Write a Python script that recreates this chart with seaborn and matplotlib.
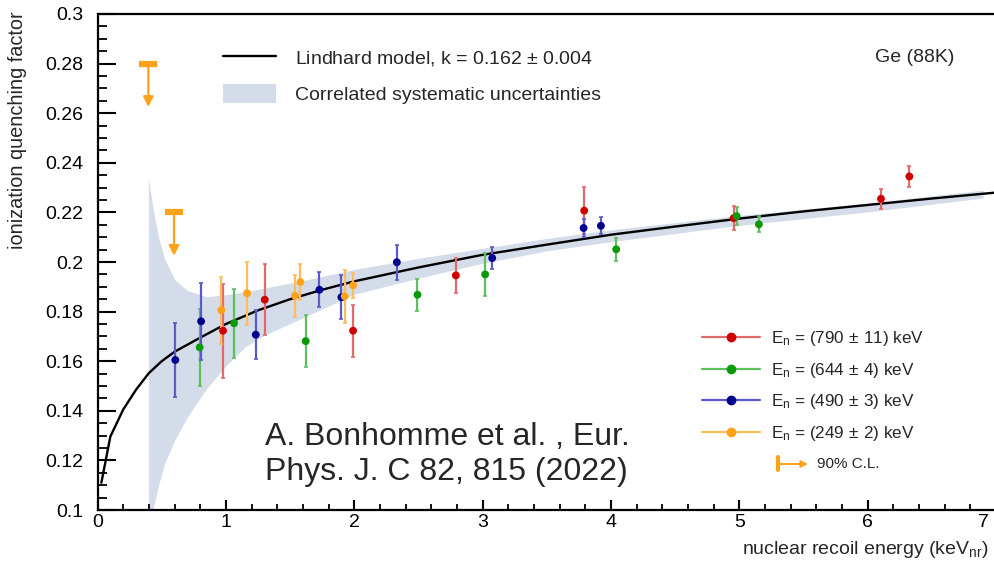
import numpy as np
import pandas as pd
import matplotlib
matplotlib.use("Agg")
import matplotlib.pyplot as plt
from matplotlib.lines import Line2D
from matplotlib.patches import Patch
from matplotlib.transforms import ScaledTranslation
import seaborn as sns

# ---------------- data ----------------
red_x = [0.978, 1.303, 1.991, 2.792, 3.792, 4.956, 6.104, 6.325]
red_y = [0.1723, 0.1848, 0.1723, 0.1946, 0.2207, 0.2177, 0.2255, 0.2345]
red_e = [0.019, 0.0142, 0.0105, 0.007, 0.0095, 0.0048, 0.0041, 0.0041]

green_x = [0.796, 1.064, 1.622, 2.493, 3.020, 4.041, 4.979, 5.153]
green_y = [0.1656, 0.1753, 0.1681, 0.1868, 0.1950, 0.2051, 0.2185, 0.2152]
green_e = [0.0155, 0.0139, 0.0104, 0.0065, 0.0088, 0.0046, 0.0036, 0.0032]

blue_x = [0.606, 0.807, 1.233, 1.729, 1.900, 2.332, 3.075, 3.787, 3.922]
blue_y = [0.1605, 0.1761, 0.1707, 0.1888, 0.1858, 0.1999, 0.2016, 0.2137, 0.2146]
blue_e = [0.015, 0.0155, 0.010, 0.007, 0.0088, 0.007, 0.0043, 0.0035, 0.0034]

orange_x = [0.965, 1.165, 1.539, 1.581, 1.926, 1.991]
orange_y = [0.1806, 0.1874, 0.1864, 0.1919, 0.1862, 0.1906]
orange_e = [0.0135, 0.0127, 0.0084, 0.0073, 0.0107, 0.005]

limit_x = [0.396, 0.596]
limit_y = [0.280, 0.220]

curve_x = [0.03, 0.1, 0.2, 0.3, 0.4, 0.5, 0.6, 0.8, 1.0, 1.25, 1.5, 1.75, 2.0,
           2.5, 3.0, 3.5, 4.0, 4.5, 5.0, 5.5, 6.0, 6.5, 7.0]
curve_y = [0.111, 0.1296, 0.1405, 0.1485, 0.1552, 0.1600, 0.1638, 0.1695, 0.1750,
           0.1805, 0.1850, 0.1888, 0.1922, 0.1978, 0.2029, 0.2070, 0.2110, 0.2143,
           0.2175, 0.2204, 0.2230, 0.2256, 0.2280]

band_x = [0.396, 0.41, 0.435, 0.475, 0.525, 0.6, 0.7, 0.85, 1.0, 1.15, 1.3, 1.6,
          2.0, 2.5, 3.0, 3.5, 4.0, 5.0, 6.0, 6.9]
band_hi = [0.234, 0.229, 0.221, 0.210, 0.201, 0.193, 0.1885, 0.186, 0.1868, 0.188,
           0.1895, 0.1925, 0.197, 0.2015, 0.2055, 0.2095, 0.213, 0.2188, 0.2238, 0.229]
band_lo = [0.080, 0.092, 0.1007, 0.110, 0.119, 0.128, 0.1375, 0.149, 0.158, 0.1658,
           0.1705, 0.1775, 0.187, 0.1935, 0.1995, 0.2045, 0.2082, 0.2148, 0.2202, 0.2258]

series_labels = [r"E$_{\mathrm{n}}$ = (790$\,\pm\,$11) keV",
                 r"E$_{\mathrm{n}}$ = (644$\,\pm\,$4) keV",
                 r"E$_{\mathrm{n}}$ = (490$\,\pm\,$3) keV",
                 r"E$_{\mathrm{n}}$ = (249$\,\pm\,$2) keV"]

x_ticks = [0, 1, 2, 3, 4, 5, 6, 7]
y_ticks = [0.1, 0.12, 0.14, 0.16, 0.18, 0.2, 0.22, 0.24, 0.26, 0.28, 0.3]

# ---------------- style ----------------
sns.set_theme(style="ticks")
plt.rcParams["font.family"] = ["Liberation Sans", "DejaVu Sans"]
plt.rcParams["mathtext.fontset"] = "custom"
plt.rcParams["mathtext.rm"] = "Liberation Sans"
plt.rcParams["mathtext.it"] = "Liberation Sans:italic"
plt.rcParams["mathtext.bf"] = "Liberation Sans:bold"
plt.rcParams["xtick.color"] = "black"
plt.rcParams["ytick.color"] = "black"

marker_colors = ["#d00000", "#0a9a0a", "#00008f", "#ffa21a"]
bar_colors = ["#e06a6a", "#5cc05c", "#5a5ac8", "#ffbd5a"]
band_color = "#d3dce8"
orange = "#ffa21a"

fig = plt.figure(figsize=(9.94, 5.62), dpi=100)
ax = fig.add_axes([0.0981, 0.0925, 0.9039, 0.8826])

# band
ax.fill_between(band_x, band_lo, band_hi, color=band_color, lw=0, zorder=1)

# model curve
curve_df = pd.DataFrame({"E": curve_x, "Q": curve_y})
sns.lineplot(data=curve_df, x="E", y="Q", color="black", lw=1.7, ax=ax,
             estimator=None, sort=False, zorder=3)

# data with error bars
frames = []
for lab, xs, ys, es, mc, bc in zip(series_labels,
                                   [red_x, green_x, blue_x, orange_x],
                                   [red_y, green_y, blue_y, orange_y],
                                   [red_e, green_e, blue_e, orange_e],
                                   marker_colors, bar_colors):
    ax.errorbar(xs, ys, yerr=es, fmt="none", ecolor=bc, elinewidth=1.6,
                capsize=1.6, capthick=1.2, zorder=4)
    frames.append(pd.DataFrame({"E": xs, "Q": ys, "src": lab}))
pts = pd.concat(frames, ignore_index=True)
sns.scatterplot(data=pts, x="E", y="Q", hue="src", palette=marker_colors,
                s=32, edgecolor="none", legend=False, ax=ax, zorder=5)

# upper limits
for lx, ly in zip(limit_x, limit_y):
    ax.plot([lx - 0.07, lx + 0.07], [ly, ly], color=orange, lw=4.5,
            solid_capstyle="butt", zorder=5)
    ax.annotate("", xy=(lx, ly - 0.0175), xytext=(lx, ly + 0.0005),
                arrowprops=dict(arrowstyle="-|>", color=orange, lw=1.6,
                                mutation_scale=15, shrinkA=0, shrinkB=0),
                zorder=5)

# axes
ax.set_xlim(0, 7)
ax.set_ylim(0.1, 0.3)
ax.set_xticks(x_ticks)
ax.set_xticklabels([str(t) for t in x_ticks])
ax.set_yticks(y_ticks)
ax.set_yticklabels([f"{t:g}" for t in y_ticks])
ax.set_xticks(np.arange(0, 7.01, 0.2), minor=True)
ax.set_yticks(np.arange(0.1, 0.3001, 0.005), minor=True)
ax.tick_params(which="both", left=True, bottom=True, right=False, top=False,
               direction="in", color="black")
ax.tick_params(axis="y", which="major", length=13, width=1.5,
               labelsize=14, pad=10, labelcolor="black")
ax.tick_params(axis="y", which="minor", length=6.5, width=1.3)
ax.tick_params(axis="x", which="major", length=7, width=1.5,
               labelsize=14, pad=3, labelcolor="black")
ax.tick_params(axis="x", which="minor", length=4, width=1.3)
# last x tick label sits at the figure edge: keep it fully visible
last_lab = ax.get_xticklabels()[-1]
last_lab.set_horizontalalignment("right")
last_lab.set_transform(last_lab.get_transform()
                       + ScaledTranslation(-5 / 72, 0, fig.dpi_scale_trans))
for s in ["left", "bottom", "top"]:
    ax.spines[s].set_linewidth(1.6)
    ax.spines[s].set_color("black")
ax.spines["right"].set_visible(False)
ax.set_xlabel("")
ax.set_ylabel("")
ax.set_facecolor("white")
ax.set_axisbelow(False)

fig.text(18 / 994, 1 - 130 / 562, "ionization quenching factor", rotation=90,
         ha="center", va="center", fontsize=14.3)
fig.text(742 / 994, 1 - 549 / 562, r"nuclear recoil energy (keV$_{\mathrm{nr}}$)",
         ha="left", va="center", fontsize=14)

# legends
h1 = [Line2D([], [], color="black", lw=1.7), Patch(facecolor=band_color, edgecolor="none")]
leg1 = ax.legend(h1, [r"Lindhard model, k = 0.162 $\pm$ 0.004",
                      "Correlated systematic uncertainties"],
                 loc="upper left", bbox_to_anchor=(223 / 994, 1 - 48 / 562),
                 bbox_transform=fig.transFigure, frameon=False, fontsize=14,
                 handlelength=2.7, handleheight=1.1, handletextpad=1.0,
                 labelspacing=0.8, borderpad=0, borderaxespad=0)
ax.add_artist(leg1)

h2 = [Line2D([], [], color=bc, lw=1.6, marker="o", markersize=6,
             markerfacecolor=mc, markeredgecolor=mc)
      for mc, bc in zip(marker_colors, bar_colors)]
leg2 = ax.legend(h2, series_labels, loc="upper left",
                 bbox_to_anchor=(702 / 994, 1 - 329 / 562),
                 bbox_transform=fig.transFigure, frameon=False, fontsize=12.3,
                 handlelength=3.4, handletextpad=0.65, labelspacing=0.74,
                 borderpad=0, borderaxespad=0)

# 90% C.L. entry
fig.add_artist(Line2D([778 / 994, 778 / 994], [1 - 457 / 562, 1 - 470 / 562],
                      color=orange, lw=3, transform=fig.transFigure))
ax.annotate("", xy=(808 / 994, 1 - 464 / 562), xytext=(778 / 994, 1 - 464 / 562),
            xycoords="figure fraction", textcoords="figure fraction",
            arrowprops=dict(arrowstyle="-|>", color=orange, lw=1.4,
                            mutation_scale=10, shrinkA=0, shrinkB=0))
fig.text(817 / 994, 1 - 464 / 562, "90% C.L.", fontsize=11, ha="left", va="center")

fig.text(875 / 994, 1 - 57 / 562, "Ge (88K)", fontsize=14, ha="left", va="center")

fig.text(265 / 994, 1 - 437 / 562, "A. Bonhomme et al. , Eur.", fontsize=23,
         ha="left", va="center")
fig.text(265 / 994, 1 - 472 / 562, "Phys. J. C 82, 815 (2022)", fontsize=23,
         ha="left", va="center")

fig.savefig("out.png", dpi=100, facecolor="white")
